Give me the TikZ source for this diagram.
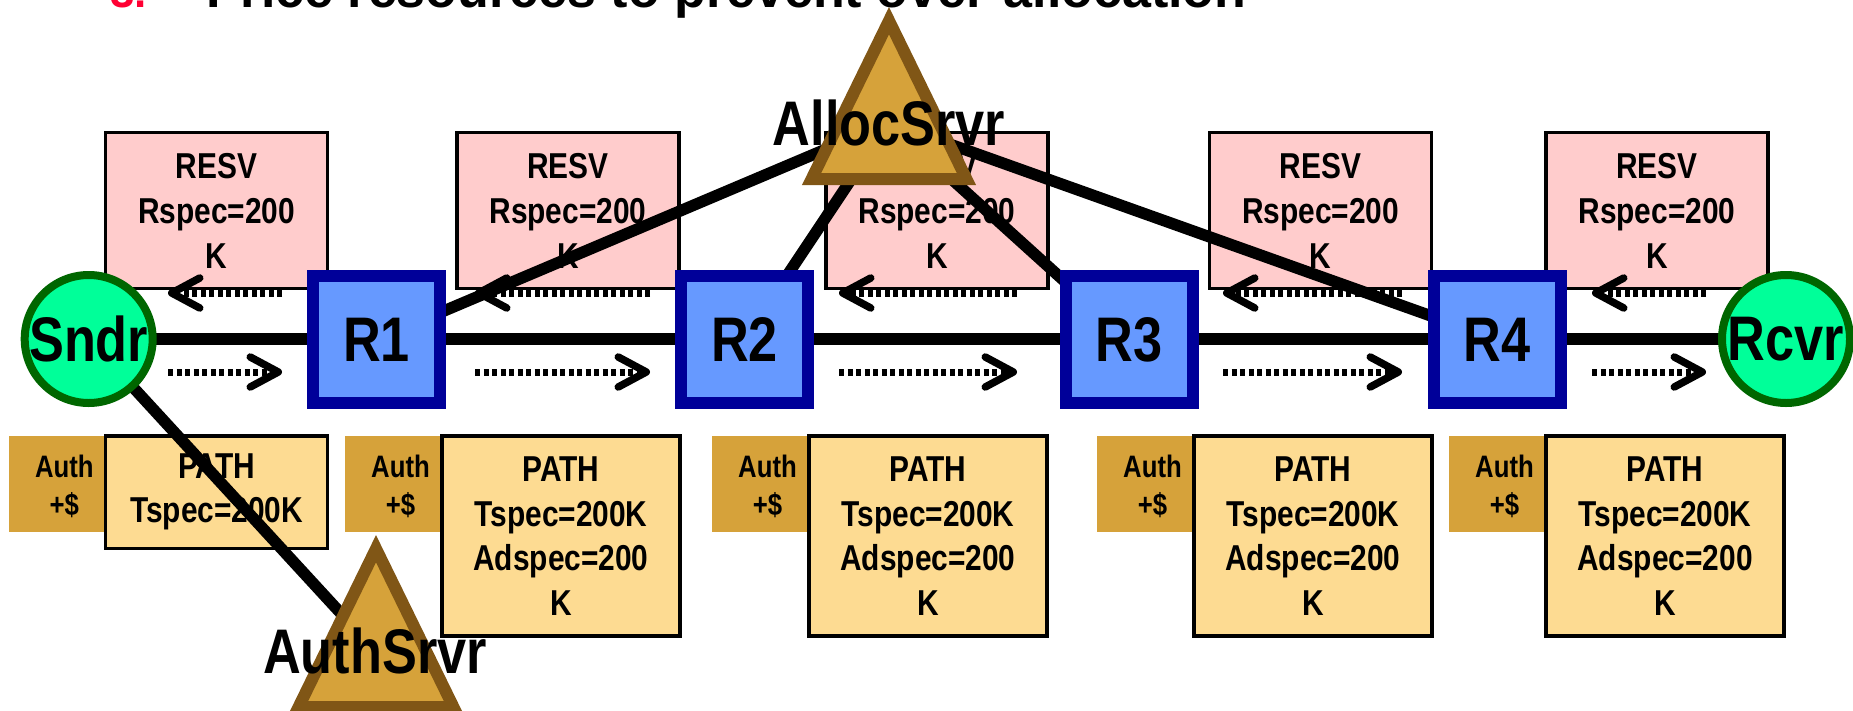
\documentclass[tikz,border=0pt]{standalone}
\usepackage{fontspec}
\setmainfont{Liberation Sans}
\newfontfamily\nar[FakeStretch=0.83]{Liberation Sans}
\usetikzlibrary{arrows.meta}
\definecolor{resvpink}{RGB}{255,204,204}
\definecolor{pathtan}{RGB}{253,219,146}
\definecolor{authgold}{RGB}{214,162,58}
\definecolor{tribrown}{RGB}{128,86,22}
\definecolor{rtrfill}{RGB}{102,153,255}
\definecolor{rtrdraw}{RGB}{0,0,153}
\definecolor{hostfill}{RGB}{0,255,153}
\definecolor{hostdraw}{RGB}{0,102,0}
\definecolor{numred}{RGB}{255,0,51}
\pgfdeclarelayer{back}
\pgfdeclarelayer{lines}
\pgfsetlayers{back,lines,main}
\begin{document}
\begin{tikzpicture}[x=1pt,y=-1pt,
  every node/.style={inner sep=0pt},
  resv/.style={draw=black,line width=3.5pt,fill=resvpink,minimum width=222pt,minimum height=156pt,align=center,font=\nar\bfseries\fontsize{36}{45}\selectfont},
  pathbox/.style={draw=black,line width=3.5pt,fill=pathtan,minimum width=238pt,minimum height=200pt,align=center,font=\nar\bfseries\fontsize{36}{44.5}\selectfont},
  authbox/.style={fill=authgold,minimum width=95pt,minimum height=96pt},
  authtxt/.style={align=center,font=\nar\bfseries\fontsize{31}{38}\selectfont},
  router/.style={draw=rtrdraw,line width=12pt,fill=rtrfill,minimum size=127pt,font=\nar\bfseries\fontsize{63}{70}\selectfont},
  host/.style={circle,draw=hostdraw,line width=8pt,fill=hostfill,minimum size=128pt,font=\nar\bfseries\fontsize{63}{70}\selectfont},
  server/.style={draw=tribrown,line width=12pt,fill=authgold,line join=miter},
  srvlabel/.style={anchor=base,font=\nar\bfseries\fontsize{63}{70}\selectfont},
  wire/.style={line width=11.5pt},
  flow/.style={line width=7pt,dash pattern=on 5pt off 3.5pt,-{Straight Barb[length=28pt,width=30pt,line width=7.5pt,round]}},
]
\useasboundingbox (0,0) rectangle (1853,710);

% title (cut off at the top)
\node[anchor=base west,font=\bfseries\fontsize{52}{60}\selectfont] (title) at (206,7) {Price resources to prevent over-allocation};
\node[anchor=base west,text=numred,font=\bfseries\fontsize{44}{50}\selectfont] (num) at (110,7) {3.};

\begin{pgfonlayer}{back}
  \foreach \x [count=\i] in {216.6,568,937,1320.5,1657}
    \node[resv] (resv\i) at (\x,210.5) {RESV\\Rspec=200\\K};
  \foreach \x [count=\i] in {56.3,392.5,759.5,1144.5,1496.5}
    \node[authbox] (authb\i) at (\x,484) {};
  \foreach \i in {1,...,5}
    \node[authtxt] (autht\i) at ([xshift=8pt,yshift=-2pt]authb\i.center) {Auth\\+\$};
  \node[pathbox,minimum height=112.5pt,minimum width=222pt] (path1) at (216.6,492) {PATH\\Tspec=200K};
  \foreach \x [count=\i from 2] in {561,928,1313,1665}
    \node[pathbox] (path\i) at (\x,536) {PATH\\Tspec=200K\\Adspec=200\\K};
\end{pgfonlayer}

% hosts and routers
\node[host] (sndr) at (88.7,339) {Sndr};
\node[host] (rcvr) at (1786,339) {Rcvr};
\node[router] (r1) at (376.5,339.5) {R1};
\node[router] (r2) at (744.5,339.5) {R2};
\node[router] (r3) at (1129,339.5) {R3};
\node[router] (r4) at (1497,339.5) {R4};

% servers
\filldraw[server] (889,20.7) -- (811.6,179) -- (966.4,179) -- cycle;
\node[srvlabel] (alloc) at (889,145) {AllocSrvr};
\filldraw[server] (376,548.7) -- (298.6,707) -- (453.4,707) -- cycle;
\node[srvlabel] (auth) at (375,673) {AuthSrvr};

\begin{pgfonlayer}{lines}
  \draw[wire] (sndr.center) -- (rcvr.center);
  \draw[wire] (alloc.center) -- (r1.center);
  \draw[wire] (alloc.center) -- (r2.center);
  \draw[wire] (alloc.center) -- (r3.center);
  \draw[wire] (alloc.center) -- (r4.center);
  \draw[wire] (sndr.center) -- (auth.center);
  \foreach \a/\b [count=\i] in {168/282,475/650,839/1017,1223/1402,1592/1706}{
    \coordinate (fa\i) at (\a,372);
    \coordinate (fb\i) at (\b,372);
    \coordinate (ba\i) at (\a,293);
    \coordinate (bb\i) at (\b,293);
    \draw[flow] (fa\i) -- (fb\i);
    \draw[flow] (bb\i) -- (ba\i);
  }
\end{pgfonlayer}
\end{tikzpicture}
\end{document}
